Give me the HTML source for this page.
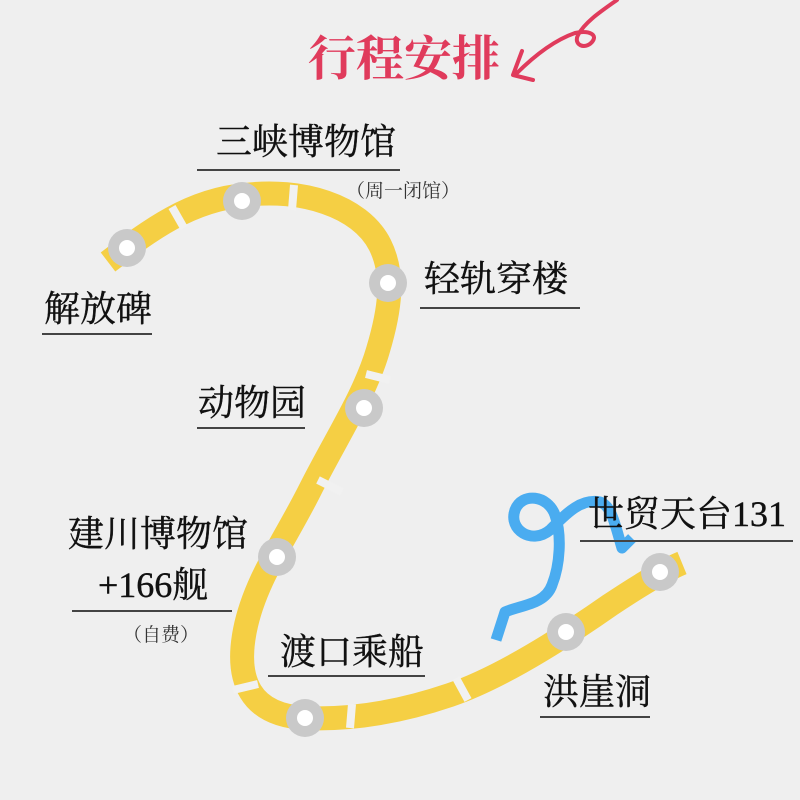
<!DOCTYPE html>
<html><head><meta charset="utf-8"><style>
body{margin:0;width:800px;height:800px;background:#efefef;overflow:hidden;position:relative;font-family:"Liberation Serif","Noto Serif CJK SC",serif;}
.t{position:absolute;color:#111;font-size:36px;white-space:nowrap;line-height:1;-webkit-text-stroke:0.4px #111}
.s{position:absolute;color:#333;font-size:19px;white-space:nowrap;line-height:1}
.u{position:absolute;height:2px;background:#444}
</style></head><body>
<svg width="800" height="800" style="position:absolute;left:0;top:0">
<path d="M108,262 C150,230 190,200 245,195 C300,188 360,205 380,245 C395,275 390,310 378,350 C365,395 335,440 310,490 C285,540 255,580 245,630 C235,680 250,715 305,718 C350,720 400,712 450,695 C500,678 560,640 610,605 C640,585 665,570 682,563" fill="none" stroke="#f5cf44" stroke-width="24"/>
<g stroke="#f1f1f1" stroke-width="8">
<line x1="172" y1="207" x2="184" y2="228"/>
<line x1="294" y1="185" x2="292" y2="210"/>
<line x1="366" y1="374" x2="390" y2="380"/>
<line x1="318" y1="480" x2="342" y2="492"/>
<line x1="233" y1="690" x2="258" y2="684"/>
<line x1="352" y1="704" x2="350" y2="728"/>
<line x1="456" y1="678" x2="468" y2="700"/>
</g>
<path d="M496,640 L505,612 C520,605 545,605 552,585 C560,565 562,535 555,515 C548,495 522,492 515,510 C508,530 532,545 550,530 C565,515 580,498 600,502 C612,506 615,525 622,548 L632,538" fill="none" stroke="#4aacf0" stroke-width="11" stroke-linejoin="round"/>
<path d="M617,0 C600,12 585,22 578,35 C573,45 585,50 592,42 C598,35 590,30 575,33 C555,40 535,55 516,74 M522,51 L513,75 L533,80" fill="none" stroke="#e03b5c" stroke-width="4" stroke-linecap="round" stroke-linejoin="round"/>
<g fill="#c9c9c9">
<circle cx="127" cy="248" r="19"/><circle cx="242" cy="201" r="19"/><circle cx="388" cy="283" r="19"/><circle cx="364" cy="408" r="19"/><circle cx="277" cy="557" r="19"/><circle cx="305" cy="718" r="19"/><circle cx="566" cy="632" r="19"/><circle cx="660" cy="572" r="19"/>
</g>
<g fill="#fff">
<circle cx="127" cy="248" r="8"/><circle cx="242" cy="201" r="8"/><circle cx="388" cy="283" r="8"/><circle cx="364" cy="408" r="8"/><circle cx="277" cy="557" r="8"/><circle cx="305" cy="718" r="8"/><circle cx="566" cy="632" r="8"/><circle cx="660" cy="572" r="8"/>
</g>
</svg>
<div class="t" style="left:308px;top:36px;color:#e03b5c;font-size:48px;font-weight:bold;-webkit-text-stroke:0">行程安排</div>
<div class="t" style="left:216px;top:124px">三峡博物馆</div><div class="u" style="left:197px;top:169px;width:203px"></div>
<div class="s" style="left:346px;top:182px">（周一闭馆）</div>
<div class="t" style="left:44px;top:291px">解放碑</div><div class="u" style="left:42px;top:333px;width:110px"></div>
<div class="t" style="left:424px;top:261px">轻轨穿楼</div><div class="u" style="left:420px;top:307px;width:160px"></div>
<div class="t" style="left:198px;top:385px">动物园</div><div class="u" style="left:197px;top:427px;width:108px"></div>
<div class="t" style="left:68px;top:516px">建川博物馆</div>
<div class="t" style="left:98px;top:567px">+166舰</div><div class="u" style="left:72px;top:610px;width:160px"></div>
<div class="s" style="left:123px;top:626px">（自费）</div>
<div class="t" style="left:280px;top:634px">渡口乘船</div><div class="u" style="left:268px;top:675px;width:157px"></div>
<div class="t" style="left:543px;top:674px">洪崖洞</div><div class="u" style="left:540px;top:716px;width:110px"></div>
<div class="t" style="left:588px;top:496px">世贸天台131</div><div class="u" style="left:580px;top:540px;width:213px"></div>
</body></html>
